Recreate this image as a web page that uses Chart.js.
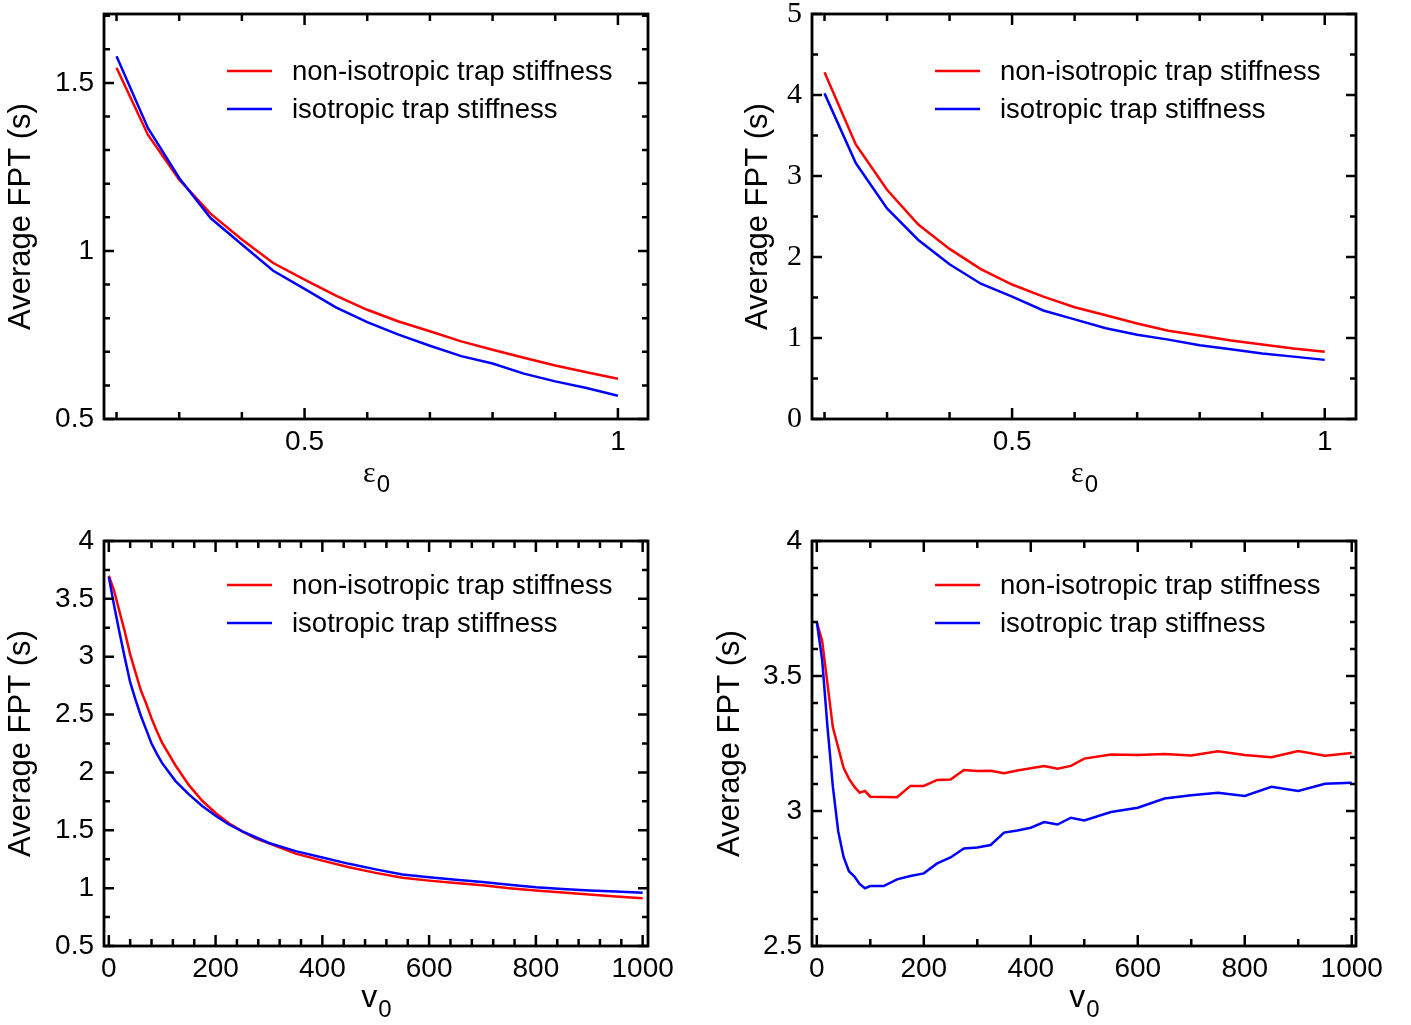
<!DOCTYPE html>
<html>
<head>
<meta charset="utf-8">
<script src="https://cdn.jsdelivr.net/npm/chart.js@4.4.0/dist/chart.umd.min.js"></script>
<style>
  html, body { margin: 0; padding: 0; background: #fff; }
  body { width: 1411px; height: 1025px; position: relative; overflow: hidden; }
  canvas { position: absolute; }
</style>
</head>
<body>
<canvas id="c1" width="705" height="532" style="left:0;top:-20px"></canvas>
<canvas id="c2" width="706" height="532" style="left:705px;top:-20px"></canvas>
<canvas id="c3" width="705" height="513" style="left:0;top:512px"></canvas>
<canvas id="c4" width="706" height="513" style="left:705px;top:512px"></canvas>
<script>
// --- data ---
const labels = ['non-isotropic trap stiffness', 'isotropic trap stiffness'];

// top row: FPT vs epsilon_0
const epsX = [0.2, 0.25, 0.3, 0.35, 0.4, 0.45, 0.5, 0.55, 0.6, 0.65, 0.7, 0.75, 0.8, 0.85, 0.9, 0.95, 1.0];
const p1Red  = [1.545, 1.346, 1.212, 1.111, 1.034, 0.964, 0.915, 0.867, 0.825, 0.79, 0.761, 0.731, 0.706, 0.682, 0.659, 0.639, 0.62];
const p1Blue = [1.579, 1.366, 1.217, 1.098, 1.019, 0.941, 0.887, 0.832, 0.788, 0.751, 0.718, 0.687, 0.665, 0.635, 0.612, 0.592, 0.569];
const p2Red  = [4.28, 3.39, 2.83, 2.40, 2.10, 1.85, 1.66, 1.51, 1.38, 1.28, 1.18, 1.09, 1.03, 0.97, 0.92, 0.87, 0.83];
const p2Blue = [4.02, 3.16, 2.60, 2.21, 1.91, 1.67, 1.51, 1.34, 1.23, 1.12, 1.04, 0.98, 0.91, 0.86, 0.81, 0.77, 0.73];

// bottom left: FPT vs v_0
const p3X = [0, 10, 20, 30, 40, 50, 60, 70, 80, 90, 100, 125, 150, 175, 200, 225, 250, 275, 300,
             350, 400, 450, 500, 550, 600, 650, 700, 750, 800, 850, 900, 950, 1000];
const p3Red  = [3.70, 3.57, 3.39, 3.216, 3.02, 2.865, 2.71, 2.595, 2.468, 2.356, 2.256, 2.06, 1.89, 1.755, 1.65, 1.56, 1.49, 1.43, 1.387,
                1.298, 1.238, 1.18, 1.132, 1.09, 1.065, 1.045, 1.025, 1.0, 0.98, 0.962, 0.945, 0.928, 0.912];
const p3Blue = [3.69, 3.44, 3.21, 2.99, 2.78, 2.63, 2.49, 2.37, 2.25, 2.16, 2.08, 1.925, 1.81, 1.71, 1.625, 1.55, 1.49, 1.44, 1.39,
                1.32, 1.265, 1.21, 1.162, 1.118, 1.095, 1.073, 1.053, 1.03, 1.008, 0.993, 0.98, 0.97, 0.96];

// bottom right: FPT vs v_0
const p4X = [0, 10, 20, 30, 40, 50, 60, 70, 80, 90, 100, 125, 150, 175, 200, 225, 250, 275, 300, 325, 350, 375, 400,
             425, 450, 475, 500, 550, 600, 650, 700, 750, 800, 850, 900, 950, 1000];
const p4Red  = [3.70, 3.63, 3.47, 3.31, 3.235, 3.16, 3.12, 3.09, 3.068, 3.074, 3.053, 3.052, 3.051, 3.093, 3.093, 3.115, 3.117, 3.152, 3.148, 3.149, 3.14, 3.15, 3.158,
                3.167, 3.157, 3.167, 3.194, 3.209, 3.207, 3.211, 3.206, 3.221, 3.207, 3.199, 3.222, 3.205, 3.215];
const p4Blue = [3.70, 3.56, 3.31, 3.09, 2.925, 2.83, 2.777, 2.758, 2.73, 2.714, 2.722, 2.722, 2.747, 2.759, 2.769, 2.806, 2.828, 2.861, 2.865, 2.874, 2.92, 2.928, 2.938,
                2.959, 2.95, 2.975, 2.965, 2.996, 3.012, 3.046, 3.058, 3.068, 3.056, 3.09, 3.074, 3.101, 3.105];

// tick labels (major) for each axis
const epsTicks = [0.5, 1];
const v0Ticks = [0, 200, 400, 600, 800, 1000];
const p1YTicks = [0.5, 1, 1.5];
const p2YTicks = [0, 1, 2, 3, 4, 5];
const p3YTicks = [0.5, 1, 1.5, 2, 2.5, 3, 3.5, 4];
const p4YTicks = [2.5, 3, 3.5, 4];

const SANS = "'Liberation Sans', Arial, Helvetica, sans-serif";
const SERIF = "'Liberation Serif', 'Times New Roman', serif";

function steps(a, b, s) {
    const out = [];
    for (let i = 0; a + i * s <= b + 1e-9; i++) out.push(+(a + i * s).toFixed(6));
    return out;
}

// inward ticks on all four sides + box
const framePlugin = {
    id: 'frame',
    afterDatasetsDraw(chart, args, o) {
        const { ctx, chartArea: a, scales: { x, y } } = chart;
        ctx.save();
        ctx.strokeStyle = '#000';
        ctx.lineWidth = 2.5;
        ctx.beginPath();
        const xt = (vals, len) => vals.forEach(v => {
            const px = x.getPixelForValue(v);
            ctx.moveTo(px, a.bottom); ctx.lineTo(px, a.bottom - len);
            ctx.moveTo(px, a.top); ctx.lineTo(px, a.top + len);
        });
        const yt = (vals, len) => vals.forEach(v => {
            const py = y.getPixelForValue(v);
            ctx.moveTo(a.left, py); ctx.lineTo(a.left + len, py);
            ctx.moveTo(a.right, py); ctx.lineTo(a.right - len, py);
        });
        xt(o.xMinor, 7); xt(o.xMajor, 11);
        yt(o.yMinor, 6); yt(o.yMajor, 10);
        ctx.stroke();
        ctx.lineWidth = 2.8;
        ctx.strokeRect(a.left, a.top, a.right - a.left, a.bottom - a.top);
        ctx.restore();
    }
};

// legend inside the plot, upper right
const keyPlugin = {
    id: 'key',
    afterDraw(chart, args, o) {
        const { ctx, chartArea: a } = chart;
        ctx.save();
        ctx.font = '27.5px ' + SANS;
        ctx.textBaseline = 'middle';
        ctx.fillStyle = '#000';
        chart.data.datasets.forEach((ds, i) => {
            const yy = a.top + o.top + i * 38;
            ctx.strokeStyle = ds.borderColor;
            ctx.lineWidth = 2.5;
            ctx.beginPath();
            ctx.moveTo(a.right - 421, yy); ctx.lineTo(a.right - 376, yy);
            ctx.stroke();
            ctx.fillText(ds.label, a.right - 356, yy + 1);
        });
        ctx.restore();
    }
};

// x title with a subscript
const xTitlePlugin = {
    id: 'xtitle',
    afterDraw(chart, args, o) {
        const { ctx, chartArea: a } = chart;
        ctx.save();
        ctx.fillStyle = '#000';
        ctx.textBaseline = 'alphabetic';
        ctx.font = o.mainFont;
        const wm = ctx.measureText(o.main).width;
        ctx.font = o.subFont;
        const ws = ctx.measureText(o.sub).width;
        const x0 = (a.left + a.right) / 2 - (wm + ws) / 2;
        const base = a.bottom + o.gap;
        ctx.font = o.mainFont;
        ctx.fillText(o.main, x0, base);
        ctx.font = o.subFont;
        ctx.fillText(o.sub, x0 + wm + 1, base + 10);
        ctx.restore();
    }
};

function makeChart(id, c) {
    const mk = (ys) => c.xs.map((v, i) => ({ x: v, y: ys[i] }));
    return new Chart(document.getElementById(id), {
        type: 'line',
        data: {
            datasets: [
                { label: labels[0], data: mk(c.red), borderColor: '#ff0000', borderWidth: 2.5, pointRadius: 0, tension: 0, order: 2 },
                { label: labels[1], data: mk(c.blue), borderColor: '#0000ff', borderWidth: 2.5, pointRadius: 0, tension: 0, order: 1 }
            ]
        },
        options: {
            responsive: false,
            animation: false,
            events: [],
            layout: { autoPadding: false, padding: { left: 0, right: c.padRight, top: c.padTop, bottom: 0 } },
            plugins: {
                legend: { display: false },
                tooltip: { enabled: false },
                frame: { xMinor: c.xMinor, xMajor: c.xTicks, yMinor: c.yMinor, yMajor: c.yTicks },
                key: { top: c.keyTop },
                xtitle: { main: c.xMain, sub: '0', mainFont: c.xMainFont, subFont: '24px ' + SANS, gap: c.xGap }
            },
            scales: {
                x: {
                    type: 'linear', min: c.xMin, max: c.xMax,
                    afterBuildTicks: s => { s.ticks = c.xTicks.map(v => ({ value: v })); },
                    afterFit: s => { s.height = c.xHeight; },
                    grid: { display: false, drawTicks: false },
                    border: { display: false },
                    ticks: { autoSkip: false, maxRotation: 0, padding: 6, color: '#000',
                             font: { family: SANS, size: 28 }, callback: v => String(v) }
                },
                y: {
                    type: 'linear', min: c.yMin, max: c.yMax,
                    afterBuildTicks: s => { s.ticks = c.yTicks.map(v => ({ value: v })); },
                    afterFit: s => { s.width = c.yWidth; },
                    grid: { display: false, drawTicks: false },
                    border: { display: false },
                    ticks: { autoSkip: false, padding: 10, color: '#000',
                             font: c.yFont, callback: v => String(v) },
                    title: { display: true, text: 'Average FPT (s)', color: '#000',
                             font: { family: SANS, size: 31 }, padding: { top: c.titlePad, bottom: 0 } }
                }
            }
        },
        plugins: [framePlugin, keyPlugin, xTitlePlugin]
    });
}

// top canvases start 20px above the page so the plot box top can sit at y=14
makeChart('c1', {
    xs: epsX, red: p1Red, blue: p1Blue,
    xMin: 0.18, xMax: 1.048, xTicks: epsTicks, xMinor: steps(0.2, 1.0, 0.1),
    yMin: 0.5, yMax: 1.705, yTicks: p1YTicks, yMinor: steps(0.5, 1.7, 0.1),
    yFont: { family: SANS, size: 28 },
    padRight: 57, padTop: 34, yWidth: 104, xHeight: 93, titlePad: 3, keyTop: 57,
    xMain: 'ε', xMainFont: '30px ' + SERIF, xGap: 63
});
makeChart('c2', {
    xs: epsX, red: p2Red, blue: p2Blue,
    xMin: 0.18, xMax: 1.05, xTicks: epsTicks, xMinor: steps(0.2, 1.0, 0.1),
    yMin: 0, yMax: 5, yTicks: p2YTicks, yMinor: steps(0, 5, 0.5),
    yFont: { family: SERIF, size: 30 },
    padRight: 55, padTop: 34, yWidth: 107, xHeight: 93, titlePad: 35, keyTop: 57,
    xMain: 'ε', xMainFont: '30px ' + SERIF, xGap: 63
});
makeChart('c3', {
    xs: p3X, red: p3Red, blue: p3Blue,
    xMin: -9, xMax: 1010, xTicks: v0Ticks, xMinor: steps(0, 1000, 40),
    yMin: 0.5, yMax: 4, yTicks: p3YTicks, yMinor: steps(0.5, 4, 0.25),
    yFont: { family: SANS, size: 28 },
    padRight: 57, padTop: 29, yWidth: 104, xHeight: 79, titlePad: 3, keyTop: 44,
    xMain: 'v', xMainFont: '32px ' + SANS, xGap: 61
});
makeChart('c4', {
    xs: p4X, red: p4Red, blue: p4Blue,
    xMin: -9, xMax: 1008, xTicks: v0Ticks, xMinor: steps(0, 1000, 100),
    yMin: 2.5, yMax: 4, yTicks: p4YTicks, yMinor: steps(2.5, 4, 0.1),
    yFont: { family: SANS, size: 28 },
    padRight: 55, padTop: 29, yWidth: 107, xHeight: 79, titlePad: 7, keyTop: 44,
    xMain: 'v', xMainFont: '32px ' + SANS, xGap: 61
});
</script>
</body>
</html>
